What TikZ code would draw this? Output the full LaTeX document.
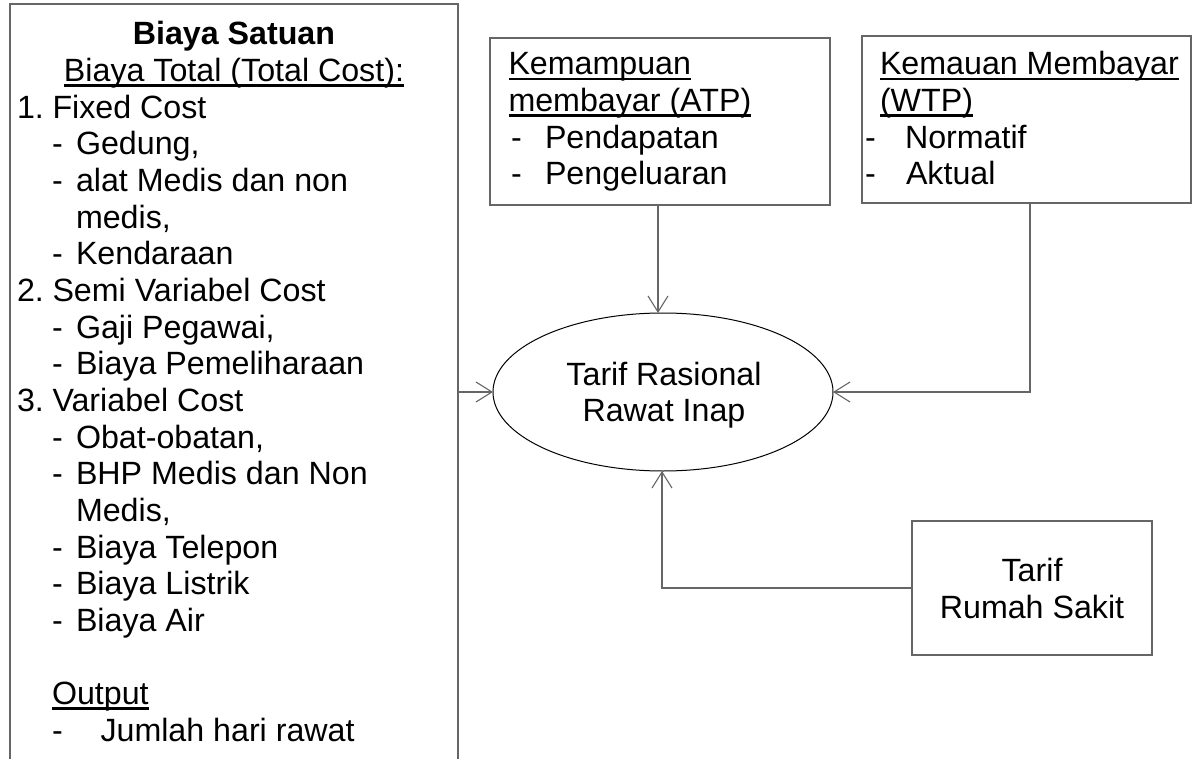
\documentclass[tikz,border=0pt]{standalone}
\usepackage{fontspec}
\setmainfont{Liberation Sans}
\usetikzlibrary{shapes.geometric,arrows.meta}
\newcommand\ulx[1]{\setbox0=\hbox{#1}\rlap{\rule[-5pt]{\wd0}{2.4pt}}\box0}
\begin{document}
\begin{tikzpicture}[x=1pt,y=-1pt,
  every node/.style={inner sep=0pt, outer sep=0pt, font=\fontsize{32.2}{36.65}\selectfont},
  txt/.style={anchor=base west},
  ctxt/.style={anchor=base},
  box/.style={draw=black!60, line width=1.2pt, rectangle},
  arr/.style={draw=black!60, line width=1.1pt, -{Straight Barb[length=16pt,width=20pt]}}]
\useasboundingbox (0,0) rectangle (1193,759);
\clip (0,0) rectangle (1193,759);
% boxes
\node[box, minimum width=448pt, minimum height=776pt] (cost) at (234,392) {};
\node[box, minimum width=340pt, minimum height=167pt] (atp) at (660,121.5) {};
\node[box, minimum width=329pt, minimum height=167pt] (wtp) at (1026.5,119.5) {};
\node[box, minimum width=240pt, minimum height=134pt] (rs) at (1032,588) {};
\node[draw=black, line width=1pt, ellipse, minimum width=340pt, minimum height=158pt] (ell) at (663,392) {};
% left box text
\node[ctxt] (c0) at (234,45) {\textbf{Biaya Satuan}};
\node[ctxt] (c1) at (234,81.65) {\ulx{Biaya Total (Total Cost):}};
\node[txt] (c2n) at (17,118.3) {1.};
\node[txt] (c2) at (52.5,118.3) {Fixed Cost};
\node[txt] (c3d) at (52,154.95) {-};
\node[txt] (c3) at (76,154.95) {Gedung,};
\node[txt] (c4d) at (52,191.6) {-};
\node[txt] (c4) at (76,191.6) {alat Medis dan non};
\node[txt] (c5) at (76,228.25) {medis,};
\node[txt] (c6d) at (52,264.9) {-};
\node[txt] (c6) at (76,264.9) {Kendaraan};
\node[txt] (c7n) at (17,301.55) {2.};
\node[txt] (c7) at (52.5,301.55) {Semi Variabel Cost};
\node[txt] (c8d) at (52,338.2) {-};
\node[txt] (c8) at (76,338.2) {Gaji Pegawai,};
\node[txt] (c9d) at (52,374.85) {-};
\node[txt] (c9) at (76,374.85) {Biaya Pemeliharaan};
\node[txt] (c10n) at (17,411.5) {3.};
\node[txt] (c10) at (52.5,411.5) {Variabel Cost};
\node[txt] (c11d) at (52,448.15) {-};
\node[txt] (c11) at (76,448.15) {Obat-obatan,};
\node[txt] (c12d) at (52,484.8) {-};
\node[txt] (c12) at (76,484.8) {BHP Medis dan Non};
\node[txt] (c13) at (76,521.45) {Medis,};
\node[txt] (c14d) at (52,558.1) {-};
\node[txt] (c14) at (76,558.1) {Biaya Telepon};
\node[txt] (c15d) at (52,594.75) {-};
\node[txt] (c15) at (76,594.75) {Biaya Listrik};
\node[txt] (c16d) at (52,631.4) {-};
\node[txt] (c16) at (76,631.4) {Biaya Air};
\node[txt] (c18) at (52,704.7) {\ulx{Output}};
\node[txt] (c19d) at (52,741.35) {-};
\node[txt] (c19) at (100.5,741.35) {Jumlah hari rawat};
% ATP text
\node[txt] (a0) at (508.5,75) {\ulx{Kemampuan}};
\node[txt] (a1) at (508.5,111.65) {\ulx{membayar (ATP)}};
\node[txt] (a2d) at (511,148.3) {-};
\node[txt] (a2) at (545,148.3) {Pendapatan};
\node[txt] (a3d) at (511,184.95) {-};
\node[txt] (a3) at (545,184.95) {Pengeluaran};
% WTP text
\node[txt] (w0) at (880,75) {\ulx{Kemauan Membayar}};
\node[txt] (w1) at (880,111.65) {\ulx{(WTP)}};
\node[txt] (w2d) at (865,148.3) {-};
\node[txt] (w2) at (905,148.3) {Normatif};
\node[txt] (w3d) at (865,184.95) {-};
\node[txt] (w3) at (906,184.95) {Aktual};
% ellipse text
\node[ctxt] (e0) at (664,385) {Tarif Rasional};
\node[ctxt] (e1) at (664,421.65) {Rawat Inap};
% RS text
\node[ctxt] (r0) at (1032,581.7) {Tarif};
\node[ctxt] (r1) at (1032,618.35) {Rumah Sakit};
% connectors
\draw[arr] (ell.west -| cost.east) -- (ell.west);
\draw[arr] ([xshift=-2pt]atp.south) -- ([xshift=-2pt]atp.south |- ell.north);
\draw[arr] ([xshift=3.5pt]wtp.south) |- (ell.east);
\draw[arr] (rs.west) -| ([xshift=-1pt]ell.south);
\end{tikzpicture}
\end{document}
